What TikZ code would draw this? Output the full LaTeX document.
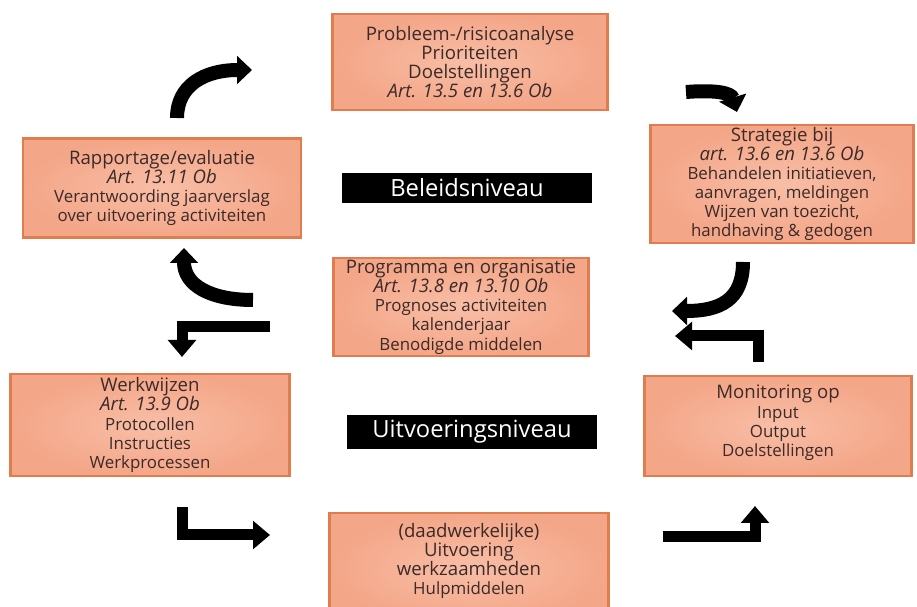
\documentclass[tikz,border=0pt]{standalone}
\usepackage{fontspec}
\setmainfont{Open Sans}
\usetikzlibrary{arrows.meta}
\usetikzlibrary{positioning}
\definecolor{salmon}{HTML}{F8BEA6}
\definecolor{salmondark}{HTML}{F4A688}
\definecolor{rim}{HTML}{E07D4F}
\definecolor{ink}{HTML}{3B2A28}
\newcommand{\smalltxt}{\fontsize{9.6}{10.3}\selectfont}
\setlength{\lineskiplimit}{-10pt}

\begin{document}
\begin{tikzpicture}[x=0.02cm, y=-0.02cm,
  box/.style={draw=rim, inner color=salmon, outer color=salmondark, line width=1.2pt,
    align=center, text=ink, font=\fontsize{10.6}{10.9}\selectfont, inner sep=1pt},
  txt/.style={align=center, text=ink, font=\fontsize{10.6}{10.9}\selectfont, inner sep=0pt},
  level/.style={fill=black, text=white, font=\fontsize{13.5}{14}\selectfont,
    minimum width=5cm, minimum height=0.6cm},
  bent/.style={line width=0.28cm, -{Triangle[width=0.55cm, length=0.3cm]}},
  elbow/.style={line width=0.22cm, -{Triangle[width=0.55cm, length=0.34cm]}}]
\useasboundingbox (0,0) rectangle (917,607);

% beleid
\node[box, minimum width=5.5cm, minimum height=1.92cm] (prob) at (470,62)
  {Probleem-/risicoanalyse\\Prioriteiten\\Doelstellingen\\\textit{Art. 13.5 en 13.6 Ob}};
\node[box, minimum width=5.26cm, minimum height=2.36cm] (strat) at (782,184)
  {Strategie bij\\\textit{art. 13.6 en 13.6 Ob}\\{\smalltxt Behandelen initiatieven,}\\
   {\smalltxt aanvragen, meldingen}\\{\smalltxt Wijzen van toezicht,}\\{\smalltxt handhaving \& gedogen}};
\node[box, minimum width=5.56cm, minimum height=1.98cm] (rapp) at (162,188)
  {Rapportage/evaluatie\\\textit{Art. 13.11 Ob}\\{\smalltxt Verantwoording jaarverslag}\\
   {\smalltxt over uitvoering activiteiten}};
\node[box, minimum width=5.1cm, minimum height=1.96cm, inner xsep=0pt] (prog) at (461,307)
  {Programma en organisatie\\\textit{Art. 13.8 en 13.10 Ob}\\{\smalltxt Prognoses activiteiten}\\
   {\smalltxt kalenderjaar}\\{\smalltxt Benodigde middelen}};
\node[level] (beleid) at (467,188) {Beleidsniveau};

% uitvoering
\node[box, minimum width=5.58cm, minimum height=2.04cm] (werk) at (150,425)
  {Werkwijzen\\\textit{Art. 13.9 Ob}\\{\smalltxt Protocollen}\\{\smalltxt Instructies}\\
   {\smalltxt Werkprocessen}};
\node[box, minimum width=5.34cm, minimum height=2cm] (moni) at (778,426) {};
\node[txt, below=0.2cm of moni.north] (monitxt)
  {Monitoring op\\{\smalltxt Input}\\{\smalltxt Output}\\{\smalltxt Doelstellingen}};
\node[box, minimum width=5.58cm, minimum height=2.2cm] (uitv) at (469,568) {};
\node[txt, below=0.22cm of uitv.north] (uitvtxt)
  {(daadwerkelijke)\\Uitvoering\\werkzaamheden\\{\smalltxt Hulpmiddelen}};
\node[level] (uitvoer) at (472,432) {Uitvoeringsniveau};

% pijlen
\coordinate (a1) at (177,118);
\coordinate (b1) at (252,70);
\draw[bent] (a1) .. controls (177,85) and (205,70) .. (b1);
\coordinate (a2) at (686,92);
\coordinate (b2) at (737,112);
\draw[bent] (a2) .. controls (712,90) and (731,92) .. (b2);
\coordinate (a3) at (743,262);
\coordinate (b3) at (672,311);
\draw[bent] (a3) .. controls (743,300) and (720,311) .. (b3);
\coordinate (a4) at (758,362);
\coordinate (b4) at (675,336);
\draw[elbow] (a4) |- (b4);
\coordinate (a5) at (253,300);
\coordinate (b5) at (184,248);
\draw[bent] (a5) .. controls (210,300) and (184,285) .. (b5);
\coordinate (a6) at (270,327);
\coordinate (b6) at (182,357);
\draw[elbow] (a6) -| (b6);
\coordinate (a7) at (182,507);
\coordinate (b7) at (270,535);
\draw[elbow] (a7) |- (b7);
\coordinate (a8) at (663,537);
\coordinate (b8) at (755,506);
\draw[elbow] (a8) -| (b8);
\end{tikzpicture}
\end{document}
